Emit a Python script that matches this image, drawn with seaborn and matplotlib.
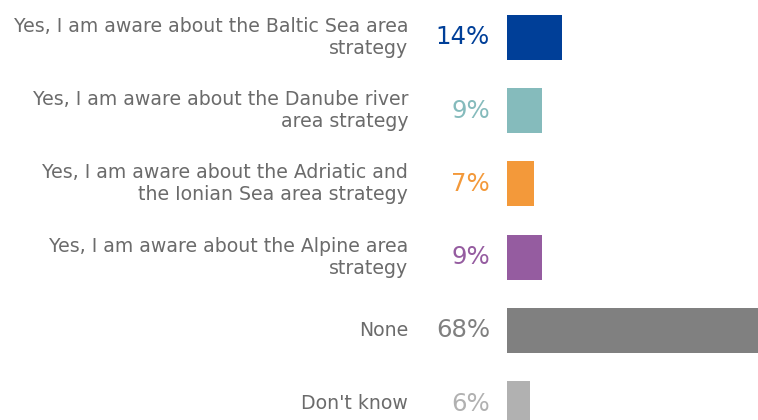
import matplotlib
matplotlib.use("Agg")
import matplotlib.pyplot as plt
import matplotlib.transforms as mtransforms
import seaborn as sns
import pandas as pd

categories = [
    "Yes, I am aware about the Baltic Sea area\nstrategy",
    "Yes, I am aware about the Danube river\narea strategy",
    "Yes, I am aware about the Adriatic and\nthe Ionian Sea area strategy",
    "Yes, I am aware about the Alpine area\nstrategy",
    "None",
    "Don't know",
]
values = [14, 9, 7, 9, 68, 6]
value_labels = ["14%", "9%", "7%", "9%", "68%", "6%"]
colors = ["#003F98", "#85BBBC", "#F3993A", "#955CA0", "#808080", "#B1B1B1"]
label_color = "#6B6B6B"

df = pd.DataFrame({"category": categories, "value": values})

sns.set_theme(style="white")
plt.rcParams["font.family"] = ["DejaVu Sans"]

fig = plt.figure(figsize=(7.58, 4.2), dpi=100)
ax = fig.add_axes([507 / 758, 0.0, 251 / 758, 1.0])

sns.barplot(
    data=df, y="category", x="value", hue="category",
    palette=colors, orient="h", width=0.615, legend=False,
    saturation=1.0, linewidth=0, ax=ax,
)

ax.set_xlim(0, 64.4)
ax.set_ylim(5.225, -0.512)
ax.set_xlabel("")
ax.set_ylabel("")
ax.set_xticks([])
ax.set_yticks([])
for s in ax.spines.values():
    s.set_visible(False)

trans = mtransforms.blended_transform_factory(fig.transFigure, ax.transData)
for i, (cat, lab, col) in enumerate(zip(categories, value_labels, colors)):
    ax.text(408 / 758, i, cat, transform=trans, ha="right", va="center",
            fontsize=13.6, color=label_color, linespacing=1.2, clip_on=False)
    ax.text(490 / 758, i, lab, transform=trans, ha="right", va="center",
            fontsize=17.6, color=col, clip_on=False)

fig.savefig("out.png", dpi=100)
